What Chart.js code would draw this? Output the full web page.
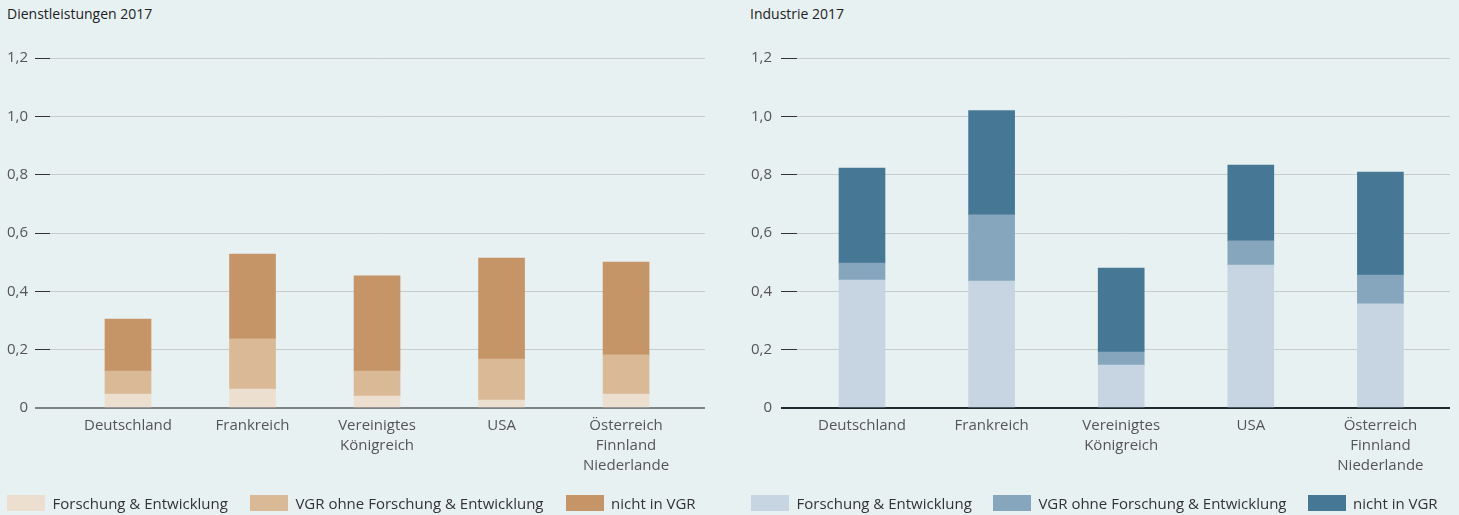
<!DOCTYPE html>
<html>
<head>
<meta charset="utf-8">
<script src="https://cdn.jsdelivr.net/npm/chart.js@4"></script>
<style>
  html, body { margin: 0; padding: 0; background: #e8f1f2; overflow: hidden; }
  body { width: 1459px; height: 515px; position: relative; font-family: 'Open Sans', sans-serif; }
  .panel { position: absolute; top: 0; height: 515px; }
  #left { left: 0; width: 720px; }
  #right { left: 720px; width: 739px; }
  .title { position: absolute; top: 4px; font-size: 14px; color: #222; white-space: nowrap; }
  .legend { position: absolute; top: 495px; display: flex; align-items: center; white-space: nowrap; }
  .legend .item { display: flex; align-items: center; margin-right: 22px; }
  .legend .box { width: 38px; height: 16px; margin-right: 7.5px; }
  .legend .txt { font-size: 15px; line-height: 16px; color: #333; }
</style>
</head>
<body>
<div class="title" style="left:7px">Dienstleistungen 2017</div>
<div class="title" style="left:750px">Industrie 2017</div>
<div class="panel" id="left"><canvas id="dienstChart"></canvas></div>
<div class="panel" id="right"><canvas id="industrieChart"></canvas></div>
<div class="legend" id="dienstLegend" style="left:7px"></div>
<div class="legend" id="industrieLegend" style="left:751px"></div>
<script>
// Categories and series
const categories = ['Deutschland', 'Frankreich', ['Vereinigtes', 'Königreich'], 'USA', ['Österreich', 'Finnland', 'Niederlande']];
const seriesNames = ['Forschung & Entwicklung', 'VGR ohne Forschung & Entwicklung', 'nicht in VGR'];

// Dienstleistungen 2017 (stack segments)
const dienstFuE = [0.048, 0.065, 0.041, 0.027, 0.048];
const dienstVGR = [0.079, 0.172, 0.086, 0.141, 0.134];
const dienstNicht = [0.178, 0.291, 0.326, 0.346, 0.318];

// Industrie 2017 (stack segments)
const industrieFuE = [0.439, 0.435, 0.147, 0.490, 0.357];
const industrieVGR = [0.058, 0.227, 0.045, 0.083, 0.099];
const industrieNicht = [0.326, 0.358, 0.288, 0.260, 0.353];

// Axis
const yMax = 1.2;
const yStep = 0.2;

const dienstColors = ['#ecdfcf', '#d9b996', '#c59467'];
const industrieColors = ['#c6d5e1', '#85a6bc', '#467795'];

const tickFont = { family: "'Open Sans', sans-serif", size: 15, lineHeight: 20 / 15 };

function toPoints(values) {
    return values.map((v, i) => ({ x: i, y: v }));
}

// Legend below each panel
function buildLegend(id, colors, gap) {
    const el = document.getElementById(id);
    seriesNames.forEach((name, k) => {
        const item = document.createElement('div');
        item.className = 'item';
        item.style.marginRight = gap + 'px';
        const box = document.createElement('div');
        box.className = 'box';
        box.style.background = colors[k];
        const txt = document.createElement('div');
        txt.className = 'txt';
        txt.textContent = name;
        item.appendChild(box);
        item.appendChild(txt);
        el.appendChild(item);
    });
}

function buildChart(id, seriesValues, colors, cfg) {
    const ctx = document.getElementById(id).getContext('2d');
    return new Chart(ctx, {
        type: 'bar',
        data: {
            datasets: seriesValues.map((vals, k) => ({
                label: seriesNames[k],
                data: toPoints(vals),
                backgroundColor: colors[k],
                borderWidth: 0,
                barThickness: 46
            }))
        },
        options: {
            responsive: true,
            maintainAspectRatio: false,
            animation: false,
            layout: { padding: { top: 58, right: cfg.padRight, left: 0, bottom: 37 } },
            plugins: {
                tooltip: { enabled: false },
                legend: { display: false }
            },
            scales: {
                x: {
                    type: 'linear',
                    stacked: true,
                    offset: false,
                    min: cfg.xMin,
                    max: cfg.xMax,
                    grid: { display: false, drawTicks: false, offset: false },
                    border: { display: false },
                    afterBuildTicks: function(scale) {
                        scale.ticks = categories.map((c, i) => ({ value: i }));
                    },
                    afterFit: function(scale) { scale.height = 70; },
                    ticks: {
                        padding: 8,
                        color: '#555',
                        font: tickFont,
                        maxRotation: 0,
                        autoSkip: false,
                        callback: function(value) { return categories[value]; }
                    }
                },
                y: {
                    stacked: true,
                    min: 0,
                    max: yMax,
                    border: { display: false },
                    afterFit: function(scale) { scale.width = cfg.yWidth; },
                    grid: {
                        color: c => c.tick.value === 0 ? cfg.zeroColor : '#c6cbcc',
                        tickColor: c => c.tick.value === 0 ? cfg.zeroColor : '#333',
                        lineWidth: c => c.tick.value === 0 ? 2 : 1,
                        tickLength: cfg.tickLength
                    },
                    ticks: {
                        stepSize: yStep,
                        padding: cfg.tickPadding,
                        color: '#555',
                        font: tickFont,
                        callback: v => v === 0 ? '0' : v.toFixed(1).replace('.', ',')
                    }
                }
            }
        }
    });
}

document.addEventListener('DOMContentLoaded', function() {
    buildChart('dienstChart', [dienstFuE, dienstVGR, dienstNicht], dienstColors,
        { padRight: 15, yWidth: 50, tickLength: 15, tickPadding: 7,
          xMin: -0.6265, xMax: 4.634, zeroColor: '#7e8384' });

    buildChart('industrieChart', [industrieFuE, industrieVGR, industrieNicht], industrieColors,
        { padRight: 9, yWidth: 77, tickLength: 16, tickPadding: 9,
          xMin: -0.5015, xMax: 4.537, zeroColor: '#1f2a30' });

    buildLegend('dienstLegend', dienstColors, 22);
    buildLegend('industrieLegend', industrieColors, 21);
});
</script>
</body>
</html>
